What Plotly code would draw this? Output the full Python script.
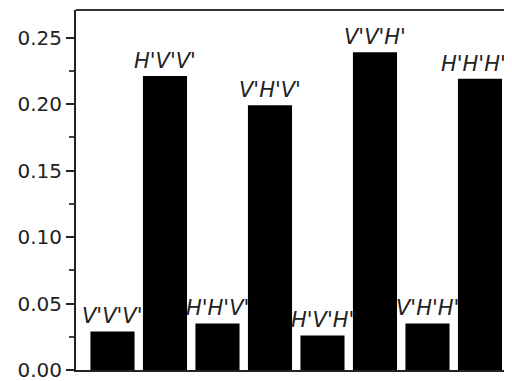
import plotly.graph_objects as go

categories = ["V'V'V'", "H'V'V'", "H'H'V'", "V'H'V'", "H'V'H'", "V'V'H'", "V'H'H'", "H'H'H'"]
values = [0.029, 0.221, 0.035, 0.199, 0.026, 0.239, 0.035, 0.219]
ytickvals = [0.00, 0.05, 0.10, 0.15, 0.20, 0.25]
yticktext = ["0.00", "0.05", "0.10", "0.15", "0.20", "0.25"]

xs = list(range(len(categories)))

fig = go.Figure(go.Bar(
    x=xs,
    y=values,
    cliponaxis=False,
    marker=dict(color="black", line=dict(width=0)),
))

annotations = []
for i, (c, v) in enumerate(zip(categories, values)):
    annotations.append(dict(
        x=xs[i], y=v, xref="x", yref="y", text=c, showarrow=False,
        yanchor="bottom", yshift=1, xshift=(-6 if i == len(categories) - 1 else 0),
        font=dict(family="DejaVu Sans", size=21, color="#222", style="italic"),
    ))

# page body has an 8px margin, so the figure is shrunk by 8px to fit the window
fig.update_layout(
    width=504, height=373,
    margin=dict(l=68, r=0, t=2, b=11),
    plot_bgcolor="white", paper_bgcolor="white",
    bargap=0.16,
    showlegend=False,
    font=dict(family="DejaVu Sans", color="#222"),
    annotations=annotations,
    xaxis=dict(range=[-0.695, 7.61], showticklabels=False, ticks="", showgrid=False,
               zeroline=False, showline=True, linecolor="#222", linewidth=2),
    yaxis=dict(range=[0, 0.2707], tickvals=ytickvals, ticktext=yticktext,
               ticks="outside", ticklen=8, tickwidth=2, tickcolor="#222",
               tickfont=dict(size=20, color="#222"), ticklabeloverflow="allow",
               minor=dict(tickvals=[0.025, 0.075, 0.125, 0.175, 0.225], ticks="outside",
                          ticklen=5, tickwidth=1.5, tickcolor="#444"),
               showgrid=False, zeroline=False, showline=True, linecolor="#222", linewidth=2),
    shapes=[dict(type="line", xref="paper", yref="paper", x0=0, x1=1, y0=1, y1=1,
                 line=dict(color="#333", width=2))],
)

fig.write_html("out.html")
